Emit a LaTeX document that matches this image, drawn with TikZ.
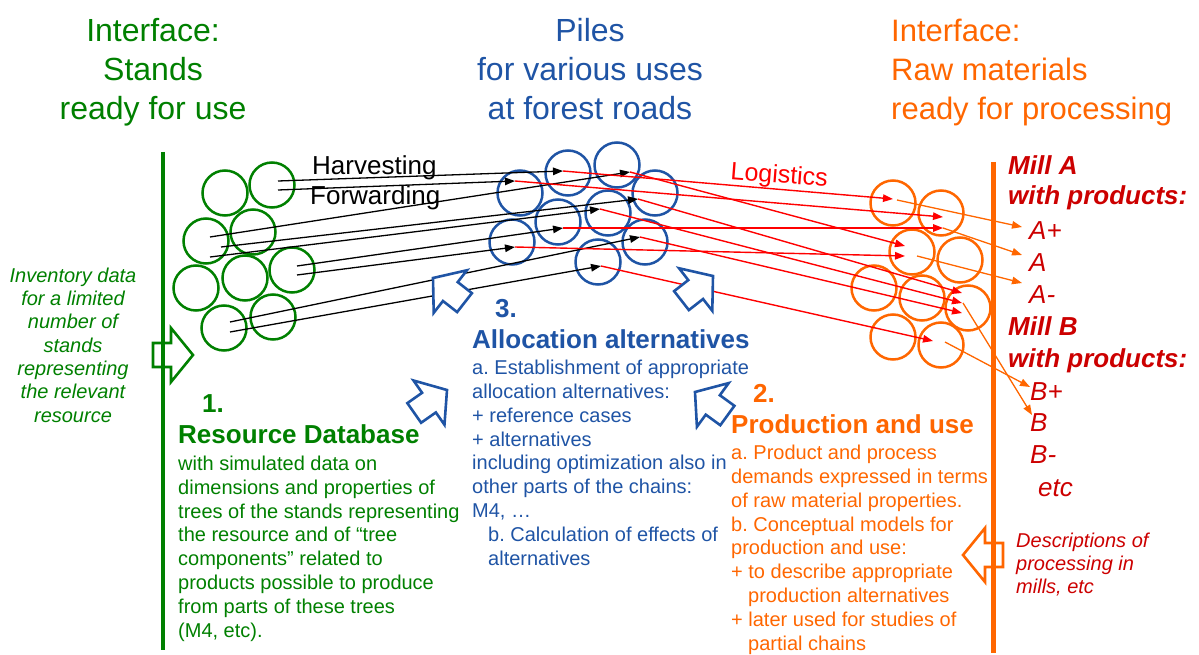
\documentclass[tikz,border=0pt]{standalone}
\usepackage{fontspec}
\setmainfont{Liberation Sans}
\usetikzlibrary{arrows.meta}
\frenchspacing
\definecolor{standgreen}{RGB}{0,128,0}
\definecolor{pileblue}{RGB}{31,84,165}
\definecolor{millorange}{RGB}{255,102,0}
\definecolor{logred}{RGB}{255,0,0}
\definecolor{proddark}{RGB}{204,0,0}
\tikzset{bigarrow/.pic={
    \filldraw[fill=white,line width=2.6pt,line join=miter]
        (0,0) -- (-22,-27) -- (-22,-12) -- (-40,-12) -- (-40,12) -- (-22,12) -- (-22,27) -- cycle;}}
\begin{document}
\begin{tikzpicture}[x=1pt,y=-1pt,>={Triangle[length=10pt,width=7.5pt]},
        stand/.style={circle,draw=standgreen,line width=2.5pt,minimum size=45pt,inner sep=0pt},
        pile/.style={stand,draw=pileblue},
        mill/.style={stand,draw=millorange},
        haul/.style={->,line width=1.3pt},
        ship/.style={->,draw=logred,fill=logred,line width=1.4pt},
        feed/.style={->,draw=millorange,fill=millorange,line width=1.3pt},
        headtext/.style={font=\fontsize{32}{39}\selectfont,align=center,anchor=base,inner sep=0pt},
        bodytext/.style={font=\fontsize{20}{23.8}\selectfont,align=left,anchor=base west,inner sep=0pt},
        titletext/.style={font=\fontsize{26}{30}\selectfont\bfseries,anchor=base west,inner sep=0pt},
        prodtext/.style={font=\fontsize{26}{32}\selectfont\itshape,text=proddark,align=left,anchor=base west,inner sep=0pt}]
\useasboundingbox (0,0) rectangle (1199,655);

% stands, piles and mills
\foreach \n/\x/\y in {1/225/193,2/272/185,3/206/241,4/253/232,5/196/288,6/245/278,7/292/270,8/224/328,9/273/317}
    \node[stand] (st\n) at (\x,\y) {};
\foreach \n/\x/\y in {1/520/193,2/568/173,3/617/165,4/655/193,5/558/222,6/608/213,7/512/242,8/645/242,9/598/262}
    \node[pile] (pl\n) at (\x,\y) {};
\foreach \n/\x/\y in {1/893/203,2/941/213,3/912/252,4/960/260,5/874/288,6/922/298,7/968/308,8/893/337,9/941/345}
    \node[mill] (ml\n) at (\x,\y) {};

% end points of the flows
\foreach \n/\x/\y in {1/278/181,2/278/190,3/210/237,4/221/247,5/210/257,6/297/266,7/297/275,8/230/322,9/230/332}
    \coordinate (cut\n) at (\x,\y);
\foreach \n/\x/\y in {1/563/171,2/515/181,3/630/172,4/638/199,5/600/209,6/563/228,7/515/247,8/640/237,9/601/266}
    \coordinate (pp\n) at (\x,\y);
\foreach \n/\x/\y in {1/893/199,2/943/217,3/905/246,4/962/293,5/962/303,6/943/228,7/905/256,8/962/313,9/933/341}
    \coordinate (mp\n) at (\x,\y);
\foreach \n/\x/\y in {1/897/200,2/943/228,3/917/256,4/963/303,5/945/342}
    \coordinate (out\n) at (\x,\y);
\foreach \n/\x/\y in {1/1022/227,2/1022/255,3/1022/283,4/1032/415,5/1030/387}
    \coordinate (in\n) at (\x,\y);

\foreach \i in {1,...,9}
    \draw[haul] (cut\i) -- (pp\i);
\foreach \i in {1,...,9}
    \draw[ship] (pp\i) -- (mp\i);
\foreach \i in {1,...,5}
    \draw[feed] (out\i) -- (in\i);

% block arrows
\pic[color=standgreen] at (193,355) {bigarrow};
\pic[color=millorange,rotate=180] at (963,555) {bigarrow};
\pic[color=pileblue,rotate=142] at (433,278) {bigarrow};
\pic[color=pileblue,rotate=38] at (713,276) {bigarrow};
\pic[color=pileblue,rotate=35] at (447,390) {bigarrow};
\pic[color=pileblue,rotate=144] at (695,392) {bigarrow};

% interfaces
\draw[standgreen,line width=4.5pt] (163,152) -- (163,650);
\draw[millorange,line width=5pt] (993,162) -- (993,653);

% headings (multi-line nodes sit on their last baseline)
\node[headtext,text=standgreen] (standhead) at (153,120) {Interface:\\Stands\\ready for use};
\node[headtext,text=pileblue] (pilehead) at (590,120) {Piles\\for various uses\\at forest roads};
\node[headtext,text=millorange,align=left,anchor=base west,font=\fontsize{31}{39}\selectfont] (millhead) at (891,120)
    {Interface:\\Raw materials\\ready for processing};

\node[font=\fontsize{26}{30}\selectfont,anchor=base west,inner sep=0pt] (harvest) at (312,175) {Harvesting};
\node[font=\fontsize{26}{30}\selectfont,anchor=base west,inner sep=0pt] (forward) at (310,205) {Forwarding};
\node[font=\fontsize{25}{30}\selectfont,text=logred,anchor=base west,inner sep=0pt,rotate=-4.5] (logist) at (730,179) {Logistics};

\node[font=\fontsize{20}{23.3}\selectfont\itshape,text=standgreen,align=center,anchor=base,inner sep=0pt] (invent) at (73,422)
    {Inventory data\\for a limited\\number of\\stands\\representing\\the relevant\\resource};

% 1. resource database
\node[titletext,text=standgreen] (one) at (202,412) {1.};
\node[titletext,text=standgreen] (resdb) at (178,443) {Resource Database};
\node[bodytext,text=standgreen] (restext) at (178,637)
    {with simulated data on\\dimensions and properties of\\trees of the stands representing\\the resource and of “tree\\components” related to\\products possible to produce\\from parts of these trees\\(M4, etc).};

% 3. allocation
\node[titletext,text=pileblue] (three) at (495,317) {3.};
\node[titletext,text=pileblue] (alloc) at (472,348) {Allocation alternatives};
\node[bodytext,text=pileblue] (alloctext) at (472,565)
    {a. Establishment of appropriate\\allocation alternatives:\\+ reference cases\\+ alternatives\\including optimization also in\\other parts of the chains:\\M4, …\\
     \hspace*{16pt}b. Calculation of effects of\\\hspace*{16pt}alternatives};

% 2. production
\node[titletext,text=millorange] (two) at (753,402) {2.};
\node[titletext,text=millorange] (produse) at (731,433) {Production and use};
\node[bodytext,text=millorange] (prodtext) at (731,650)
    {a. Product and process\\demands expressed in terms\\of raw material properties.\\b. Conceptual models for\\production and use:\\+ to describe appropriate\\\hspace*{17pt}production alternatives\\+ later used for studies of\\\hspace*{17pt}partial chains};

% mills and products
\node[prodtext,font=\fontsize{26}{30}\selectfont\bfseries\itshape] (millA) at (1008,205) {Mill A\\with products:};
\node[prodtext,font=\fontsize{26}{32}\selectfont\bfseries\itshape] (millB) at (1008,367) {Mill B\\with products:};
\node[prodtext] (aplus) at (1029,239) {A+};
\node[prodtext] (anorm) at (1029,271) {A};
\node[prodtext] (aminus) at (1029,303) {A-};
\node[prodtext] (bplus) at (1030,400) {B+};
\node[prodtext] (bnorm) at (1030,431) {B};
\node[prodtext] (bminus) at (1030,463) {B-};
\node[prodtext] (etc) at (1038,496) {etc};
\node[font=\fontsize{20}{23}\selectfont\itshape,text=proddark,align=left,anchor=base west,inner sep=0pt] (descr) at (1016,593)
    {Descriptions of\\processing in\\mills, etc};
\end{tikzpicture}
\end{document}
